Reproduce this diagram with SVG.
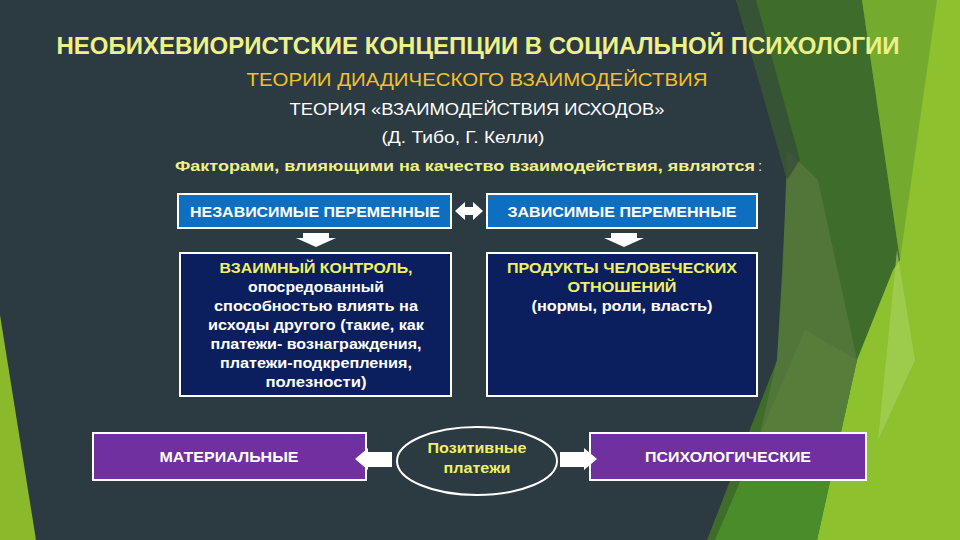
<svg xmlns="http://www.w3.org/2000/svg" width="960" height="540" viewBox="0 0 960 540">
<defs>
<style>
text{font-family:"Liberation Sans",Arial,sans-serif;}
.b{font-weight:bold;}
.ttl{fill:#eef08a;font-weight:bold;font-size:24px;}
.sub{fill:#f2c12a;font-size:19px;}
.wh{fill:#ffffff;}
.yl{fill:#f0f068;}
.box{stroke:#ffffff;stroke-width:2;}
.blue{fill:#0e6fc1;}
.navy{fill:#0b1f5e;}
.purple{fill:#7030a0;}
.lbl{font-size:15px;font-weight:bold;text-anchor:middle;}
.arr{fill:#ffffff;}
</style>
</defs>
<rect x="0" y="0" width="960" height="540" fill="#2c3a41"/>
<!-- decorative facets -->
<polygon points="0,315 0,540 36,540" fill="#8cb82b"/>
<polygon points="850,0 960,0 960,540 817,540" fill="#8dc12e"/>
<polygon points="862,0 937,0 900,260" fill="#74aa2e"/>
<polygon points="736,0 862,0 900,260 893,270 857,360 817,540 707,540 777,360 787,180" fill="#3e6c2b"/>
<polygon points="805,330 857,360 817,540 715,540" fill="#4b8c2a"/>
<polygon points="787,150 818,180 857,360 840,433 760,433 777,360 783,270" fill="#5a7a40" opacity="0.75"/>
<polygon points="897,250 915,360 878,440" fill="#a4cf58" opacity="0.7"/>
<polygon points="736,0 756,0 800,160 787,180" fill="#34483a" opacity="0.7"/>
<!-- headings -->
<text class="ttl" x="478" y="54" text-anchor="middle" textLength="843" lengthAdjust="spacingAndGlyphs">НЕОБИХЕВИОРИСТСКИЕ КОНЦЕПЦИИ В СОЦИАЛЬНОЙ ПСИХОЛОГИИ</text>
<text class="sub" x="477" y="86" text-anchor="middle" textLength="461" lengthAdjust="spacingAndGlyphs">ТЕОРИИ ДИАДИЧЕСКОГО ВЗАИМОДЕЙСТВИЯ</text>
<text class="wh" x="477" y="115" font-size="16" text-anchor="middle" textLength="375" lengthAdjust="spacingAndGlyphs">ТЕОРИЯ «ВЗАИМОДЕЙСТВИЯ ИСХОДОВ»</text>
<text class="wh" x="463" y="143" font-size="16" text-anchor="middle" textLength="163" lengthAdjust="spacingAndGlyphs">(Д. Тибо, Г. Келли)</text>
<text x="175" y="171" font-size="15" class="b" fill="#eef08a" textLength="580" lengthAdjust="spacingAndGlyphs">Факторами, влияющими на качество взаимодействия, являются</text>
<text x="758" y="171" font-size="15" fill="#e0e0e0">:</text>
<!-- nodes -->
<g id="independent">
<rect class="box blue" x="178" y="194" width="273" height="34"/>
<text class="lbl wh" x="315" y="217" textLength="250" lengthAdjust="spacingAndGlyphs">НЕЗАВИСИМЫЕ ПЕРЕМЕННЫЕ</text>
</g>
<g id="dependent">
<rect class="box blue" x="487" y="194" width="270" height="34"/>
<text class="lbl wh" x="622" y="217" textLength="229" lengthAdjust="spacingAndGlyphs">ЗАВИСИМЫЕ ПЕРЕМЕННЫЕ</text>
</g>
<g id="mutual-control">
<rect class="box navy" x="180" y="253" width="271" height="143"/>
<text class="lbl yl" x="316" y="273" textLength="193" lengthAdjust="spacingAndGlyphs">ВЗАИМНЫЙ КОНТРОЛЬ,</text>
<text class="lbl wh" x="316" y="292" textLength="136" lengthAdjust="spacingAndGlyphs">опосредованный</text>
<text class="lbl wh" x="316" y="311" textLength="204" lengthAdjust="spacingAndGlyphs">способностью влиять на</text>
<text class="lbl wh" x="316" y="330" textLength="216" lengthAdjust="spacingAndGlyphs">исходы другого (такие, как</text>
<text class="lbl wh" x="316" y="349" textLength="211" lengthAdjust="spacingAndGlyphs">платежи- вознаграждения,</text>
<text class="lbl wh" x="316" y="368" textLength="192" lengthAdjust="spacingAndGlyphs">платежи-подкрепления,</text>
<text class="lbl wh" x="316" y="387" textLength="101" lengthAdjust="spacingAndGlyphs">полезности)</text>
</g>
<g id="products">
<rect class="box navy" x="487" y="253" width="270" height="143"/>
<text class="lbl yl" x="622" y="273" textLength="230" lengthAdjust="spacingAndGlyphs">ПРОДУКТЫ ЧЕЛОВЕЧЕСКИХ</text>
<text class="lbl yl" x="622" y="292" textLength="109" lengthAdjust="spacingAndGlyphs">ОТНОШЕНИЙ</text>
<text class="lbl wh" x="622" y="311" textLength="181" lengthAdjust="spacingAndGlyphs">(нормы, роли, власть)</text>
</g>
<g id="material">
<rect class="box purple" x="93" y="433" width="273" height="47"/>
<text class="lbl wh" x="229" y="462" textLength="139" lengthAdjust="spacingAndGlyphs">МАТЕРИАЛЬНЫЕ</text>
</g>
<g id="positive">
<ellipse cx="477" cy="461" rx="80" ry="34" fill="none" stroke="#ffffff" stroke-width="2"/>
<text class="lbl yl" x="477" y="453" textLength="99" lengthAdjust="spacingAndGlyphs">Позитивные</text>
<text class="lbl yl" x="477" y="473" textLength="67" lengthAdjust="spacingAndGlyphs">платежи</text>
</g>
<g id="psychological">
<rect class="box purple" x="590" y="433" width="276" height="47"/>
<text class="lbl wh" x="728" y="462" textLength="166" lengthAdjust="spacingAndGlyphs">ПСИХОЛОГИЧЕСКИЕ</text>
</g>
<!-- connectors -->
<g id="connectors">
<polygon class="arr" points="455,211 465,202 465,207 473,207 473,202 483,211 473,220 473,215 465,215 465,220"/>
<polygon class="arr" points="303,233 329,233 329,238 336,238 316,247 296,238 303,238"/>
<polygon class="arr" points="611,233 637,233 637,238 644,238 624,247 604,238 611,238"/>
<polygon class="arr" points="355,459 368,448 368,452 392,452 392,467 368,467 368,470"/>
<polygon class="arr" points="560,452 584,452 584,448 597,459 584,470 584,467 560,467"/>
</g>
</svg>
